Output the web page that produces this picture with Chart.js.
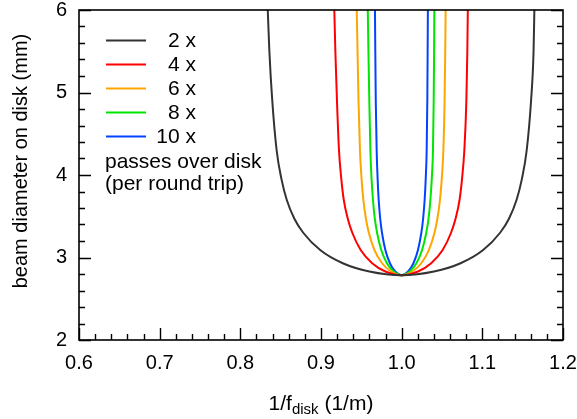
<!DOCTYPE html>
<html lang="en">
<head>
<meta charset="UTF-8">
<title>Beam diameter on disk</title>
<script src="https://cdn.jsdelivr.net/npm/chart.js"></script>
<style>
    html, body { margin: 0; padding: 0; background: #fff; }
    #wrap { width: 577px; height: 419px; position: relative; }
</style>
</head>
<body>
<div id="wrap"><canvas id="beamChart"></canvas></div>
<script>
    // beam diameter (mm): down the left wall, through the minimum, up the right wall
    const diameters = [6.0, 5.5, 4.9, 4.3, 3.95, 3.7, 3.47, 3.3, 3.09, 2.93, 2.83, 2.785,
                       2.83, 2.93, 3.09, 3.3, 3.47, 3.7, 3.95, 4.3, 4.9, 5.5, 6.0];

    // 1/f_disk (1/m) where each curve reaches those diameters
    const x2  = [0.834, 0.836, 0.8396, 0.845, 0.851, 0.8575, 0.867, 0.878, 0.899, 0.927, 0.960, 1.000,
                 1.040, 1.073, 1.101, 1.122, 1.133, 1.1425, 1.149, 1.155, 1.1604, 1.1635, 1.1645];
    const x4  = [0.9165, 0.9178, 0.9198, 0.9223, 0.9252, 0.9282, 0.9332, 0.9388, 0.9492, 0.9634, 0.9798, 1.000,
                 1.0202, 1.0366, 1.0508, 1.0612, 1.0668, 1.0718, 1.0748, 1.0777, 1.0802, 1.0814, 1.0820];
    const x6  = [0.9443, 0.9453, 0.9465, 0.9483, 0.9503, 0.9525, 0.9557, 0.9593, 0.9663, 0.9757, 0.9867, 1.000,
                 1.0133, 1.0243, 1.0337, 1.0407, 1.0443, 1.0475, 1.0497, 1.0517, 1.0532, 1.0540, 1.0545];
    const x8  = [0.9580, 0.9588, 0.9599, 0.9612, 0.9627, 0.9644, 0.9667, 0.9695, 0.9747, 0.9817, 0.9900, 1.000,
                 1.0100, 1.0183, 1.0253, 1.0305, 1.0333, 1.0356, 1.0373, 1.0388, 1.0397, 1.0402, 1.0405];
    const x10 = [0.9669, 0.9673, 0.9679, 0.9690, 0.9702, 0.9715, 0.9734, 0.9756, 0.9798, 0.9854, 0.9920, 1.000,
                 1.0080, 1.0146, 1.0202, 1.0244, 1.0266, 1.0285, 1.0298, 1.0310, 1.0318, 1.0322, 1.0325];

    const passLabels = ['2 x', '4 x', '6 x', '8 x', '10 x'];
    const passColors = ['#333333', '#ff0000', '#ffa500', '#00e600', '#0044ff'];
    const passX = [x2, x4, x6, x8, x10];

    const FONT = '"Liberation Sans", Arial, sans-serif';

    // 图框、内向刻度、图例和坐标轴标题
    const overlay = {
        id: 'overlay',
        afterDraw(chart) {
            const ctx = chart.ctx;
            const { left, right, top, bottom } = chart.chartArea;
            const xs = chart.scales.x, ys = chart.scales.y;
            ctx.save();

            ctx.strokeStyle = '#000';
            ctx.lineWidth = 1.6;
            ctx.strokeRect(left, top, right - left, bottom - top);

            ctx.lineWidth = 1.4;
            ctx.beginPath();
            for (let i = 0; i <= 30; i++) {
                const px = Math.round(xs.getPixelForValue(0.6 + i * 0.02)) + 0.5;
                const len = i % 5 === 0 ? 12 : 6;
                ctx.moveTo(px, bottom);
                ctx.lineTo(px, bottom - len);
            }
            for (let i = 0; i <= 20; i++) {
                const py = Math.round(ys.getPixelForValue(2 + i * 0.2)) + 0.5;
                const len = i % 5 === 0 ? 12 : 6;
                ctx.moveTo(left, py);
                ctx.lineTo(left + len, py);
                ctx.moveTo(right, py);
                ctx.lineTo(right - len, py);
            }
            ctx.stroke();

            // legend
            ctx.font = '21px ' + FONT;
            ctx.textBaseline = 'middle';
            chart.data.datasets.forEach((ds, i) => {
                const y = 40.5 + i * 24;
                ctx.strokeStyle = ds.borderColor;
                ctx.lineWidth = 2;
                ctx.beginPath();
                ctx.moveTo(106, y);
                ctx.lineTo(146, y);
                ctx.stroke();
                ctx.fillStyle = '#000';
                ctx.textAlign = 'right';
                ctx.fillText(ds.label, 196, y + 1);
            });
            ctx.textAlign = 'left';
            ctx.fillText('passes over disk', 105, 162);
            ctx.fillText('(per round trip)', 105, 184);

            // x title with subscript
            const cx = (left + right) / 2;
            const base = 410;
            ctx.textBaseline = 'alphabetic';
            ctx.font = '21px ' + FONT;
            const w1 = ctx.measureText('1/f').width;
            const w3 = ctx.measureText(' (1/m)').width;
            ctx.font = '15px ' + FONT;
            const w2 = ctx.measureText('disk').width;
            let x0 = cx - (w1 + w2 + w3) / 2;
            ctx.font = '21px ' + FONT;
            ctx.fillText('1/f', x0, base);
            ctx.font = '15px ' + FONT;
            ctx.fillText('disk', x0 + w1, base + 4);
            ctx.font = '21px ' + FONT;
            ctx.fillText(' (1/m)', x0 + w1 + w2, base);

            // y title
            ctx.font = '20px ' + FONT;
            ctx.translate(21, 161);
            ctx.rotate(-Math.PI / 2);
            ctx.textAlign = 'center';
            ctx.textBaseline = 'middle';
            ctx.fillText('beam diameter on disk (mm)', 0, 0);

            ctx.restore();
        }
    };

    new Chart(document.getElementById('beamChart'), {
        type: 'line',
        data: {
            datasets: passLabels.map((label, i) => ({
                label: label,
                data: passX[i].map((x, j) => ({ x: x, y: diameters[j] })),
                borderColor: passColors[i],
                borderWidth: 2,
                pointRadius: 0,
                fill: false,
                cubicInterpolationMode: 'monotone'
            }))
        },
        options: {
            responsive: true,
            maintainAspectRatio: false,
            animation: false,
            layout: { padding: { top: 10, right: 14, left: 0, bottom: 0 } },
            plugins: {
                legend: { display: false },
                tooltip: { enabled: false }
            },
            scales: {
                x: {
                    type: 'linear',
                    min: 0.6,
                    max: 1.2,
                    grid: { display: false },
                    border: { display: false },
                    afterFit(scale) {
                        scale.height = 79;
                        scale.paddingLeft = 0;
                        scale.paddingRight = 0;
                    },
                    ticks: {
                        stepSize: 0.1,
                        padding: 3,
                        color: '#000',
                        font: { family: FONT, size: 20 },
                        maxRotation: 0,
                        callback: v => v.toFixed(1)
                    }
                },
                y: {
                    min: 2,
                    max: 6,
                    grid: { display: false },
                    border: { display: false },
                    afterFit(scale) {
                        scale.width = 79;
                        scale.paddingTop = 0;
                        scale.paddingBottom = 0;
                    },
                    ticks: {
                        stepSize: 1,
                        padding: 4,
                        color: '#000',
                        font: { family: FONT, size: 20 }
                    }
                }
            }
        },
        plugins: [overlay]
    });
</script>
</body>
</html>
